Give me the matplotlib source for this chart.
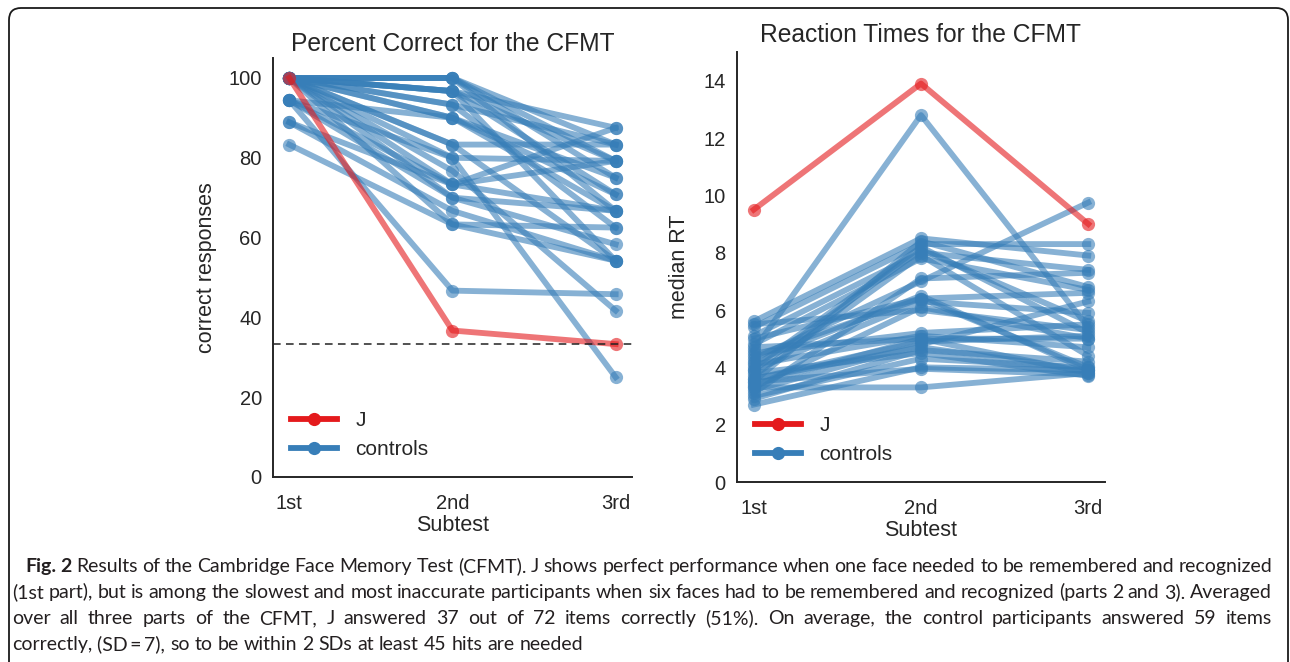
import numpy as np
import matplotlib
matplotlib.use('Agg')
import matplotlib.pyplot as plt
from matplotlib.lines import Line2D
from matplotlib.path import Path
from matplotlib.patches import PathPatch
from matplotlib.transforms import IdentityTransform

matplotlib.rcParams['font.family'] = ['Liberation Sans', 'DejaVu Sans']

subtests = ['1st', '2nd', '3rd']

# percent correct, J and controls (1st / 2nd / 3rd subtest)
pc_J = [100.0, 36.7, 33.3]
pc_controls = [
  [100.0, 100.0, 83.3], [100.0, 100.0, 79.2], [100.0, 100.0, 66.7],
  [100.0, 96.7, 79.2], [100.0, 96.7, 87.5], [100.0, 96.7, 54.2],
  [100.0, 93.3, 62.5], [100.0, 90.0, 66.7], [100.0, 90.0, 75.0],
  [94.4, 90.0, 70.8], [100.0, 83.3, 83.3], [100.0, 83.3, 54.2],
  [94.4, 80.0, 79.2], [100.0, 80.0, 25.0], [100.0, 76.7, 41.7],
  [94.4, 73.3, 87.5], [100.0, 73.3, 66.7], [88.9, 73.3, 79.2],
  [100.0, 70.0, 58.3], [94.4, 70.0, 66.7], [88.9, 66.7, 54.2],
  [83.3, 63.3, 54.2], [100.0, 63.3, 62.5], [94.4, 46.7, 45.8],
  [100.0, 96.7, 70.8], [100.0, 100.0, 75.0], [100.0, 93.3, 83.3],
]
chance_level = 33.33

# median reaction times (s)
rt_J = [9.5, 13.9, 9.0]
rt_controls = [
  [4.6, 12.8, 5.4], [4.3, 7.0, 9.75], [5.6, 8.5, 7.9], [5.4, 8.3, 8.3],
  [5.1, 8.0, 7.4], [4.8, 7.8, 6.7], [4.0, 8.2, 5.2], [3.7, 7.9, 4.4],
  [3.5, 8.4, 6.8], [4.4, 6.4, 6.6], [3.9, 6.3, 5.9], [3.3, 6.1, 5.0],
  [4.2, 6.5, 3.9], [3.1, 7.1, 7.3], [5.5, 6.0, 5.3], [4.5, 5.2, 5.5],
  [3.4, 5.0, 3.8], [3.6, 4.9, 5.1], [2.9, 4.6, 4.2], [3.8, 4.5, 3.7],
  [3.2, 4.8, 6.3], [2.7, 4.0, 3.9], [3.3, 3.3, 3.8], [4.1, 5.1, 4.7],
  [3.0, 4.3, 4.0], [3.5, 3.95, 3.75], [4.7, 5.0, 5.0], [3.6, 4.7, 3.9],
  [5.0, 6.4, 4.0], [3.9, 8.1, 5.6],
]

caption_lines = [
  'Results of the Cambridge Face Memory Test (CFMT). J shows perfect performance when one face needed to be remembered and recognized',
  '(1st part), but is among the slowest and most inaccurate participants when six faces had to be remembered and recognized (parts 2 and 3). Averaged',
  'over all three parts of the CFMT, J answered 37 out of 72 items correctly (51%). On average, the control participants answered 59 items',
  'correctly, (SD\u2009=\u20097), so to be within 2 SDs at least 45 hits are needed',
]

red = '#e41a1c'
blue = '#377eb8'
text_color = '#262626'
lw = 4.2
ms = 9.5
alpha = 0.6

fig = plt.figure(figsize=(12.9, 6.62), dpi=100)
ax1 = fig.add_axes([0.2116, 0.2795, 0.2783, 0.6329])
ax2 = fig.add_axes([0.5713, 0.2719, 0.2853, 0.6495])

x = np.arange(3)

def draw_panel(ax, controls, J):
  for c in controls:
    ax.plot(x, c, '-o', color=blue, lw=lw, ms=ms, alpha=alpha, mew=0)
  ax.plot(x, J, '-o', color=red, lw=lw, ms=ms, alpha=alpha, mew=0)
  ax.set_xlim(-0.1, 2.1)
  ax.set_xticks(x)
  ax.set_xticklabels(subtests)
  for s in ['top', 'right']: ax.spines[s].set_visible(False)
  for s in ['left', 'bottom']:
    ax.spines[s].set_color('#262626')
    ax.spines[s].set_linewidth(1.4)
  ax.tick_params(axis='both', length=0, labelsize=14.5, labelcolor=text_color, pad=8)
  ax.tick_params(axis='x', pad=12)
  handles = [Line2D([0], [0], color=red, lw=lw, marker='o', ms=ms, mew=0),
             Line2D([0], [0], color=blue, lw=lw, marker='o', ms=ms, mew=0)]
  ax.legend(handles, ['J', 'controls'], loc='lower left', frameon=False,
            fontsize=15, handlelength=2.2, labelspacing=0.5, borderaxespad=0.45,
            handletextpad=0.9, labelcolor=text_color)

draw_panel(ax1, pc_controls, pc_J)
ax1.axhline(chance_level, color='#222222', lw=1.1, ls=(0, (5, 3.5)))
ax1.set_ylim(0, 105)
ax1.set_yticks([0, 20, 40, 60, 80, 100])
ax1.set_title('Percent Correct for the CFMT', fontsize=17.7, color=text_color, pad=5)
ax1.set_ylabel('correct responses', fontsize=15.5, color=text_color, labelpad=8)
ax1.set_xlabel('Subtest', fontsize=15.5, color=text_color, labelpad=2)

draw_panel(ax2, rt_controls, rt_J)
ax2.set_ylim(0, 15)
ax2.set_yticks([0, 2, 4, 6, 8, 10, 12, 14])
ax2.set_title('Reaction Times for the CFMT', fontsize=17.7, color=text_color, pad=7)
ax2.set_ylabel('median RT', fontsize=15.5, color=text_color, labelpad=10)
ax2.set_xlabel('Subtest', fontsize=15.5, color=text_color, labelpad=2)

# frame round the figure (pixel coords, origin bottom left)
W, H = 1290, 662
r = 12
verts = [(9, -5), (9, H - 8 - r), (9, H - 8), (9 + r, H - 8), (W - 2 - r, H - 8),
         (W - 2, H - 8), (W - 2, H - 8 - r), (W - 2, -5)]
codes = [Path.MOVETO, Path.LINETO, Path.CURVE3, Path.CURVE3, Path.LINETO,
         Path.CURVE3, Path.CURVE3, Path.LINETO]
fig.patches.append(PathPatch(Path(verts, codes), transform=IdentityTransform(),
                             fill=False, lw=1.3, edgecolor='#1a1a1a'))

# caption, justified like a journal figure legend
cap_font = ['Lato', 'DejaVu Sans']
cap_color = '#231f20'
renderer = fig.canvas.get_renderer()
line_y = [H - 572, H - 598, H - 624, H - 650]
x_right = 1272

# size the caption font so that the last (unjustified) line is as long as in the original
probe = fig.text(0, 0, caption_lines[3], fontsize=12, family=cap_font, transform=IdentityTransform())
cap_size = 12 * 568 / probe.get_window_extent(renderer).width
probe.remove()

def put_words(words, x0, y, justify, bold_n=0):
  objs = []
  for i, w in enumerate(words):
    t = fig.text(0, y, w, transform=IdentityTransform(), fontsize=cap_size,
                 family=cap_font, color=cap_color,
                 fontweight='bold' if i < bold_n else 'normal')
    objs.append(t)
  widths = [t.get_window_extent(renderer).width for t in objs]
  sp = fig.text(0, 0, 'a b', fontsize=cap_size, family=cap_font, transform=IdentityTransform())
  sp2 = fig.text(0, 0, 'ab', fontsize=cap_size, family=cap_font, transform=IdentityTransform())
  space = sp.get_window_extent(renderer).width - sp2.get_window_extent(renderer).width
  sp.remove(); sp2.remove()
  if justify and len(words) > 1:
    space = (x_right - x0 - sum(widths)) / (len(words) - 1)
  xx = x0
  for t, w in zip(objs, widths):
    t.set_x(xx)
    xx += w + space

put_words(['Fig.', '2'] + caption_lines[0].split(' '), 25, line_y[0], True, bold_n=2)
put_words(caption_lines[1].split(' '), 12, line_y[1], True)
put_words(caption_lines[2].split(' '), 12, line_y[2], True)
put_words(caption_lines[3].split(' '), 12, line_y[3], False)

fig.savefig('out.png', dpi=100)
